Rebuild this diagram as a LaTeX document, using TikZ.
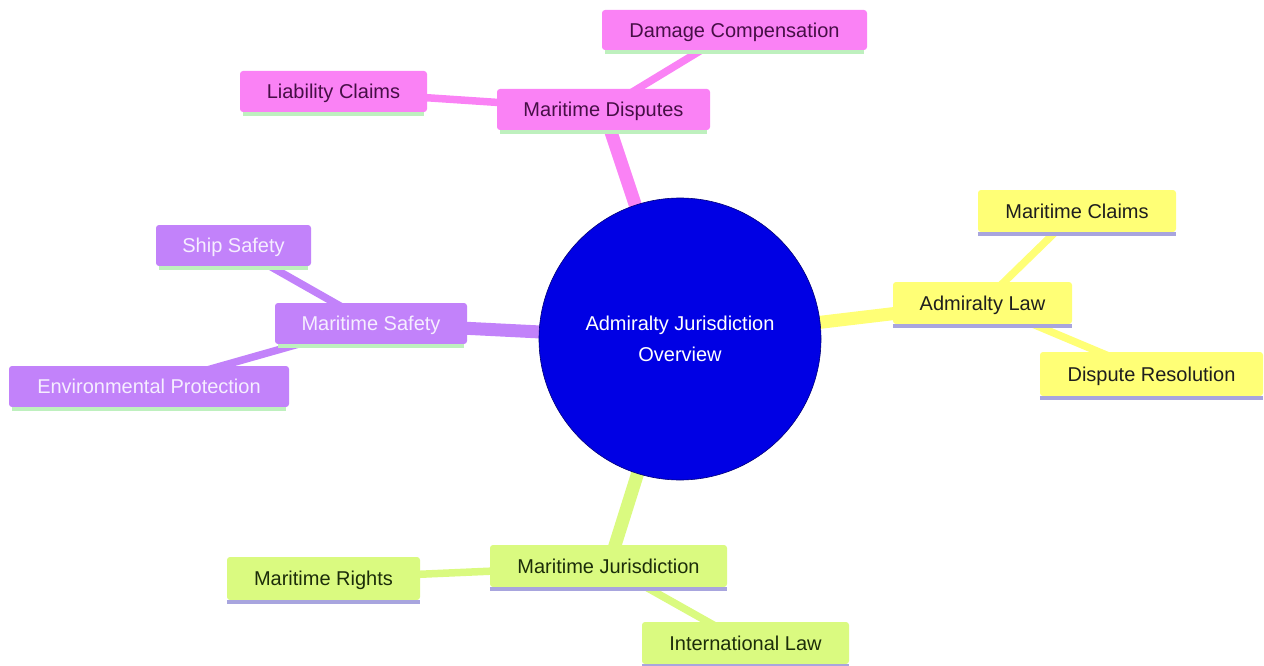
\documentclass[tikz,border=0pt]{standalone}
\usepackage{fontspec}
\setmainfont{Liberation Sans}
\usetikzlibrary{backgrounds}
\definecolor{rootblue}{RGB}{0,0,228}
\definecolor{rootedge}{RGB}{0,0,120}
\definecolor{pinkfill}{RGB}{250,130,245}
\definecolor{pinktext}{RGB}{70,15,70}
\definecolor{purplefill}{RGB}{194,130,250}
\definecolor{purpletext}{RGB}{246,238,255}
\definecolor{yellowfill}{RGB}{255,255,118}
\definecolor{yellowtext}{RGB}{30,30,30}
\definecolor{greenfill}{RGB}{218,250,128}
\definecolor{greentext}{RGB}{28,45,10}
\definecolor{mint}{RGB}{190,240,190}
\definecolor{lavender}{RGB}{168,165,222}
\tikzset{
  box/.style={rectangle, rounded corners=3pt, inner sep=0pt, text height=14.5pt, text depth=0pt,
    font=\fontsize{20}{24}\selectfont},
  pinkbox/.style={box, fill=pinkfill, text=pinktext},
  purplebox/.style={box, fill=purplefill, text=purpletext},
  yellowbox/.style={box, fill=yellowfill, text=yellowtext},
  greenbox/.style={box, fill=greenfill, text=greentext},
  mainedge/.style={line width=13pt},
  subedge/.style={line width=7.5pt},
  underline/.style={line width=4pt},
}
\begin{document}
\begin{tikzpicture}[x=1pt,y=-1pt]
\useasboundingbox (0,0) rectangle (1264,666);
% root
\node[circle, fill=rootblue, draw=rootedge, line width=0.6pt, minimum size=282pt, inner sep=0pt,
  text=white, align=center, font=\fontsize{20}{31}\selectfont] (root) at (680,339)
  {Admiralty Jurisdiction\\Overview};
% pink branch
\node[pinkbox, minimum width=213pt, minimum height=41pt] (md) at (603.5,109.5) {Maritime Disputes};
\node[pinkbox, minimum width=265pt, minimum height=40pt] (dc) at (734.5,30) {Damage Compensation};
\node[pinkbox, minimum width=187pt, minimum height=41pt] (lc) at (333.5,91.5) {Liability Claims};
% purple branch
\node[purplebox, minimum width=192pt, minimum height=41pt] (ms) at (371,323.5) {Maritime Safety};
\node[purplebox, minimum width=155pt, minimum height=41pt] (ss) at (233.5,245.5) {Ship Safety};
\node[purplebox, minimum width=280pt, minimum height=41pt] (ep) at (149,386.5) {Environmental Protection};
% yellow branch
\node[yellowbox, minimum width=179pt, minimum height=42pt] (al) at (982.5,303) {Admiralty Law};
\node[yellowbox, minimum width=198pt, minimum height=42pt] (mc) at (1077,211) {Maritime Claims};
\node[yellowbox, minimum width=223pt, minimum height=44pt] (dr) at (1151.5,374) {Dispute Resolution};
% green branch
\node[greenbox, minimum width=237pt, minimum height=42pt] (mj) at (608.5,566) {Maritime Jurisdiction};
\node[greenbox, minimum width=193pt, minimum height=43pt] (mr) at (323.5,578.5) {Maritime Rights};
\node[greenbox, minimum width=207pt, minimum height=42pt] (il) at (745.5,643) {International Law};
% bottom borders
\foreach \n in {md,dc,lc,ms,ss,ep}{
  \draw[underline, mint] ([xshift=3pt,yshift=-2pt]\n.south west) -- ([xshift=-3pt,yshift=-2pt]\n.south east);
}
\foreach \n in {al,mc,dr,mj,mr,il}{
  \draw[underline, lavender] ([yshift=-2pt]\n.south west) -- ([yshift=-2pt]\n.south east);
}
% edges
\begin{pgfonlayer}{background}
\draw[mainedge, pinkfill] (root.center) -- (md.center);
\draw[subedge, pinkfill] (md.center) -- (dc.center);
\draw[subedge, pinkfill] (md.center) -- (lc.center);
\draw[mainedge, purplefill] (root.center) -- (ms.center);
\draw[subedge, purplefill] (ms.center) -- (ss.center);
\draw[subedge, purplefill] (ms.center) -- (ep.center);
\draw[mainedge, yellowfill] (root.center) -- (al.center);
\draw[subedge, yellowfill] (al.center) -- (mc.center);
\draw[subedge, yellowfill] (al.center) -- (dr.center);
\draw[mainedge, greenfill] (root.center) -- (mj.center);
\draw[subedge, greenfill] (mj.center) -- (mr.center);
\draw[subedge, greenfill] (mj.center) -- (il.center);
\end{pgfonlayer}
\end{tikzpicture}
\end{document}
